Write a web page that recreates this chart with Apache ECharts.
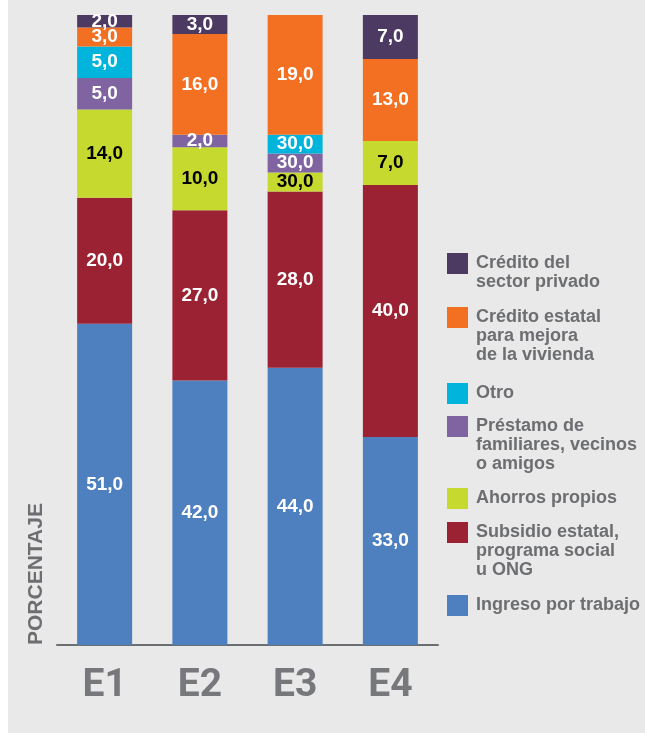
<!DOCTYPE html>
<html>
<head>
<meta charset="utf-8">
<script src="https://cdn.jsdelivr.net/npm/echarts@6/dist/echarts.min.js"></script>
<style>
  html, body { margin: 0; padding: 0; background: #fff; }
  #grafico { position: absolute; left: 8px; top: 0; width: 637px; height: 733px; }
</style>
</head>
<body>
<div id="grafico"></div>
<script>
// datos (porcentajes por grupo)
var categorias = ['E1', 'E2', 'E3', 'E4'];
var ingreso = [51, 42, 44, 33];
var subsidio = [20, 27, 28, 40];
var ahorros = [14, 10, 3, 7];
var prestamo = [5, 2, 3, 0];
var otro = [5, 0, 3, 0];
var creditoEstatal = [3, 16, 19, 13];
var creditoPrivado = [2, 3, 0, 7];
// la barra E3 viene rotulada asi en el original
var textoE3 = ['44,0', '28,0', '30,0', '30,0', '30,0', '19,0', ''];

var nombres = ['Ingreso por trabajo', 'Subsidio estatal, programa social u ONG', 'Ahorros propios',
    'Préstamo de familiares, vecinos o amigos', 'Otro', 'Crédito estatal para mejora de la vivienda',
    'Crédito del sector privado'];
var lineasLeyenda = [['Ingreso por trabajo'], ['Subsidio estatal,', 'programa social', 'u ONG'], ['Ahorros propios'],
    ['Préstamo de', 'familiares, vecinos', 'o amigos'], ['Otro'], ['Crédito estatal', 'para mejora', 'de la vivienda'],
    ['Crédito del', 'sector privado']];
var valores = [ingreso, subsidio, ahorros, prestamo, otro, creditoEstatal, creditoPrivado];
var colores = ['#4e7fbe', '#9b2233', '#c6d92e', '#8064a2', '#00b4dc', '#f37022', '#4d3a63'];

var gris = '#6d6e71';
var fuente = '"Liberation Sans", Arial, sans-serif';

var chart = echarts.init(document.getElementById('grafico'));

var series = nombres.map(function (nombre, i) {
    return {
        name: nombre,
        type: 'bar',
        stack: 'total',
        barWidth: 55,
        data: valores[i],
        itemStyle: { color: colores[i] },
        label: {
            show: true,
            position: 'inside',
            fontFamily: fuente,
            fontWeight: 'bold',
            fontSize: 19,
            color: i === 2 ? '#000' : '#fff',
            formatter: function (p) {
                if (p.name === 'E3') return textoE3[i];
                if (!p.value) return '';
                return p.value.toFixed(1).replace('.', ',');
            }
        }
    };
});

// leyenda: una por elemento; lineas en blanco delante para que el cuadro quede en la primera linea
var topCuadro = [595, 522, 488, 416, 383, 307, 253];
var leyendas = nombres.map(function (nombre, i) {
    var n = lineasLeyenda[i].length;
    var c = topCuadro[i] + 10.5;
    var vacias = new Array(n).join('\n');
    return {
        data: [nombre],
        left: 439,
        top: c - Math.max(10.5, 9.5 * (2 * n - 1)),
        padding: 0,
        icon: 'rect',
        itemWidth: 21,
        itemHeight: 21,
        selectedMode: false,
        formatter: function () { return vacias + lineasLeyenda[i].join('\n'); },
        textStyle: {
            color: gris,
            fontFamily: fuente,
            fontWeight: 'bold',
            fontSize: 18,
            lineHeight: 19,
            padding: [0, 0, 0, 3]
        }
    };
});

var option = {
    backgroundColor: '#e9e9e9',
    animation: false,
    legend: leyendas,
    grid: { left: 49, right: 207, top: 15, bottom: 88 },
    xAxis: {
        type: 'category',
        data: categorias,
        axisTick: { show: false },
        axisLine: { lineStyle: { color: gris, width: 2 } },
        axisLabel: {
            color: '#77787b',
            fontFamily: 'Roboto, "Liberation Sans", sans-serif',
            fontWeight: 'bold',
            fontSize: 39,
            margin: 22
        }
    },
    yAxis: {
        type: 'value',
        min: 0,
        max: 100,
        show: false
    },
    graphic: [{
        type: 'text',
        x: 28.5,
        y: 645,
        rotation: Math.PI / 2,
        style: {
            text: 'PORCENTAJE',
            fill: gris,
            fontFamily: fuente,
            fontWeight: 'bold',
            fontSize: 21,
            align: 'left',
            verticalAlign: 'middle'
        }
    }],
    series: series
};

chart.setOption(option);
</script>
</body>
</html>
